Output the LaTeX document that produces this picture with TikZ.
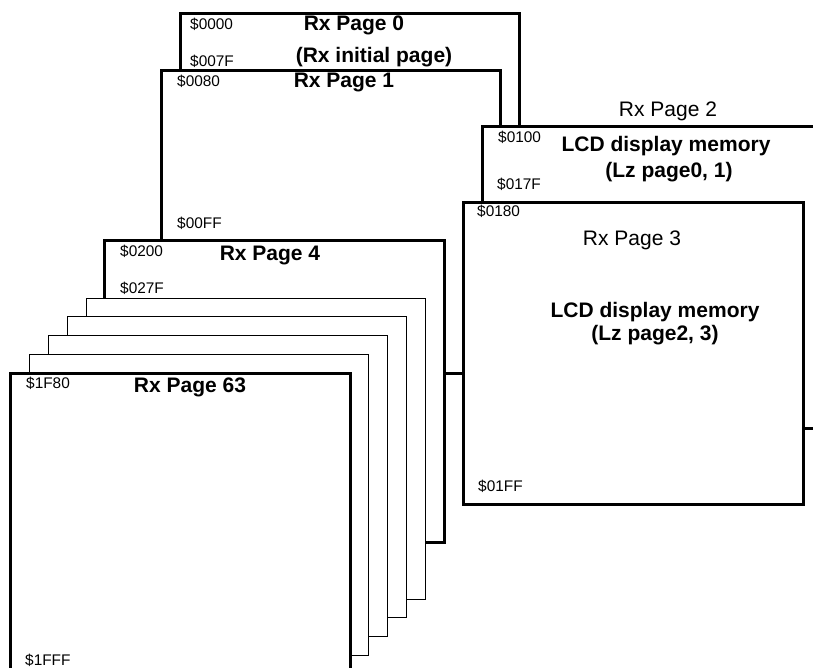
\documentclass[tikz,border=0pt]{standalone}
\usepackage{fontspec}
\setmainfont{Liberation Sans}
\usetikzlibrary{calc}

\tikzset{
  rxpage/.style={draw, line width=3pt, fill=white},
  thinpage/.style={draw, line width=0.9pt, fill=white},
  addr/.style={anchor=base west, inner sep=0pt, font=\fontsize{15.4}{17}\selectfont},
  pgname/.style={anchor=base, inner sep=0pt, font=\fontsize{21}{24}\selectfont},
  pgtitle/.style={pgname, font=\fontsize{21}{24}\selectfont\bfseries},
}

\begin{document}
\begin{tikzpicture}[x=1pt, y=-1pt]
        \useasboundingbox(0,0)rectangle(813,668);
        \clip(0,0)rectangle(813,668);
        % page corners
        \coordinate(P0)at(180,14);
        \coordinate(P1)at(161,71);
        \coordinate(P2)at(482,127);
        \coordinate(P3)at(463,203);
        \coordinate(P4)at(104,241);
        \coordinate(P63)at(10,373);
        % Rx Page 0
        \path[rxpage](P0)rectangle ++(339,302);
        \node[addr](a0000)at($(P0)+(10,16)$){\$0000};
        \node[addr](a007F)at($(P0)+(10,53)$){\$007F};
        \node[pgtitle](t0)at($(P0)+(174,17)$){Rx Page 0};
        \node[pgtitle](t0b)at($(P0)+(194,49)$){(Rx initial page)};
        % Rx Page 1
        \path[rxpage](P1)rectangle ++(339,302);
        \node[addr](a0080)at($(P1)+(16,16)$){\$0080};
        \node[pgtitle](t1)at($(P1)+(183,17)$){Rx Page 1};
        \node[addr](a00FF)at($(P1)+(16,158)$){\$00FF};
        % Rx Page 2
        \path[rxpage](P2)rectangle ++(339,301);
        \node[pgname](t2)at($(P2)+(186,-10)$){Rx Page 2};
        \node[addr](a0100)at($(P2)+(16,16)$){\$0100};
        \node[pgtitle](l2)at($(P2)+(184,25)$){LCD display memory};
        \node[pgtitle](l2b)at($(P2)+(187,51)$){(Lz page0, 1)};
        \node[addr](a017F)at($(P2)+(15,63)$){\$017F};
        % Rx Page 3
        \path[rxpage](P3)rectangle ++(340,301);
        \node[addr](a0180)at($(P3)+(14,14)$){\$0180};
        \node[pgname](t3)at($(P3)+(169,43)$){Rx Page 3};
        \node[pgtitle](l3)at($(P3)+(192,114)$){LCD display memory};
        \node[pgtitle](l3b)at($(P3)+(192,137)$){(Lz page2, 3)};
        \node[addr](a01FF)at($(P3)+(15,288)$){\$01FF};
        % Rx Page 4
        \path[rxpage](P4)rectangle ++(340,301);
        \node[addr](a0200)at($(P4)+(16,15)$){\$0200};
        \node[pgtitle](t4)at($(P4)+(166,19)$){Rx Page 4};
        \node[addr](a027F)at($(P4)+(16,52)$){\$027F};
        % pages 5 .. 62
        \foreach \x/\y in {86/298, 67/316, 48/335, 29/354}
          \path[thinpage](\x,\y)rectangle ++(339,301);
        % Rx Page 63
        \path[rxpage](P63)rectangle ++(340,301);
        \node[addr](a1F80)at($(P63)+(16,15)$){\$1F80};
        \node[pgtitle](t63)at($(P63)+(180,19)$){Rx Page 63};
        \node[addr](a1FFF)at($(P63)+(15,292)$){\$1FFF};
\end{tikzpicture}
\end{document}
